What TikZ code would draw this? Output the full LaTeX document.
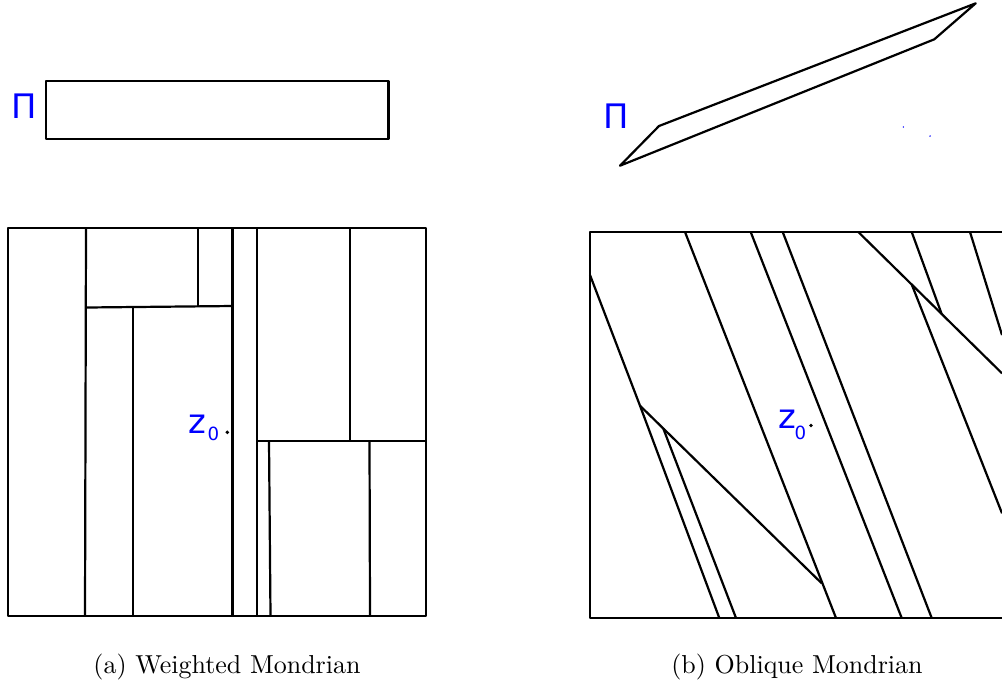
\documentclass[tikz,border=0pt]{standalone}
\usepackage{fontspec}
\newfontfamily\ggbfont{DejaVu Sans}
\usetikzlibrary{calc}
\tikzset{
  frame/.style={line width=1.05pt},
  cut/.style={line width=0.85pt},
  lbl/.style={text=blue,inner sep=0pt,anchor=base west,font=\ggbfont\fontsize{13}{13}\selectfont},
  sublbl/.style={text=blue,inner sep=0pt,anchor=base west,font=\ggbfont\fontsize{7}{7}\selectfont},
  captext/.style={inner sep=0pt,anchor=base}
}
\begin{document}
\begin{tikzpicture}[x=0.385pt,y=-0.385pt,line join=round]
\useasboundingbox (0,0) rectangle (1002,688);

% (a) weighted
\node[lbl] (piA) at (11,118) {Π};
\draw[frame] (46,81) rectangle (388.3,139);

\draw[frame] (8,228) rectangle (426,616);
\draw[cut] (86,228) -- (85,616);
\draw[cut] (86,307.5) -- (232.5,306);
\draw[cut] (198,228) -- (198,306.5);
\draw[cut] (133,307) -- (133,616);
\draw[cut] (232.5,228) -- (232.5,616);
\draw[cut] (257,228) -- (257,616);
\draw[cut] (257,441) -- (426,441);
\draw[cut] (350,228) -- (350,441);
\draw[cut] (269,441) -- (270.5,616);
\draw[cut] (369.5,441) -- (370,616);

\fill (227.3,432.3) circle (0.75pt);
\node[lbl] (zA) at (188,433) {z};
\node[sublbl] (zAsub) at (207,440) {0};

\node[captext] (capA) at (227,673) {(a) Weighted Mondrian};

% (b) oblique
\node[lbl] (piB) at (603,128.3) {Π};
\draw[cut] (620,165.7) -- (659,126) -- (975.7,3.3) -- (934.3,39.3) -- cycle;
\fill[blue] (903.3,127) circle (0.3pt);
\fill[blue] (930,136) circle (0.3pt);

\draw[frame] (1002,232) -- (590,232) -- (590,618) -- (1002,618);
\coordinate (k1) at (640,405.7);
\coordinate (k2) at (821.7,583.3);
\draw[cut] (590,275) -- (k1) -- (719.3,618);
\draw[cut] (k1) -- (k2);
\draw[cut] ($(k1)!0.128!(k2)$) -- (736,618);
\draw[cut] (685,232) -- (836,618);
\draw[cut] (750.7,232) -- (901.7,618);
\draw[cut] (782.7,232) -- (931.7,618);
\coordinate (k3) at (858.3,232);
\coordinate (k4) at (1002,373.3);
\draw[cut] (k3) -- (k4);
\draw[cut] (911.7,232) -- ($(k3)!0.58!(k4)$);
\draw[cut] ($(k3)!0.372!(k4)$) -- (1002,513.3);
\draw[cut] (970,232) -- (1002,335);

\fill (811,425.5) circle (0.75pt);
\node[lbl] (zB) at (778,428.3) {z};
\node[sublbl] (zBsub) at (794,439.3) {0};

\node[captext] (capB) at (797,673) {(b) Oblique Mondrian};
\end{tikzpicture}
\end{document}
